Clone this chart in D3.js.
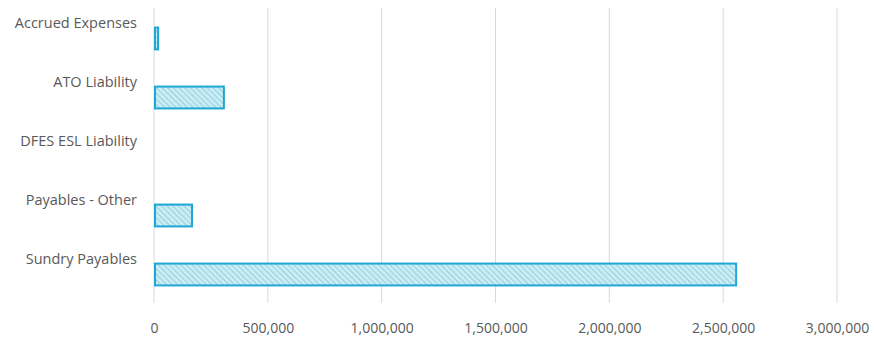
<!DOCTYPE html>
<html><head><meta charset="utf-8">
<script src="https://cdn.jsdelivr.net/npm/d3@7"></script>
<style>body{margin:0;background:#fff}svg{display:block}</style>
</head><body>
<script>
const categories = ["Accrued Expenses","ATO Liability","DFES ESL Liability","Payables - Other","Sundry Payables"];
const values = [18000, 307000, 0, 167000, 2557000];
const tickValues = [0, 500000, 1000000, 1500000, 2000000, 2500000, 3000000];

const W = 874, H = 338;
const svg = d3.select("body").append("svg").attr("width", W).attr("height", H);
const defs = svg.append("defs");
const pat = defs.append("pattern").attr("id","hatch").attr("patternUnits","userSpaceOnUse")
  .attr("width",4).attr("height",4).attr("patternTransform","rotate(-45)");
pat.append("rect").attr("width",4).attr("height",4).attr("fill","#c4eef8");
pat.append("line").attr("x1",0).attr("y1",0).attr("x2",0).attr("y2",4).attr("stroke","#93bcc8").attr("stroke-width",1.4);

const x = d3.scaleLinear().domain([0, 3000000]).range([154, 837]);
const y = d3.scaleBand().domain(categories).range([9, 304]).paddingInner(0.63).paddingOuter(0.315);

// gridlines
svg.append("g").selectAll("line").data(tickValues).join("line")
  .attr("x1", d => x(d)).attr("x2", d => x(d)).attr("y1", 8).attr("y2", 303)
  .attr("stroke", "#d9d9d9").attr("stroke-width", 1);

// bars
svg.append("g").selectAll("rect").data(values).join("rect")
  .attr("x", x(0)+1)
  .attr("y", (d,i) => y(categories[i]))
  .attr("width", d => d > 0 ? Math.max(x(d) - x(0) - 1, 2) : 0)
  .attr("height", y.bandwidth())
  .attr("fill", "url(#hatch)")
  .attr("stroke", d => d > 0 ? "#20a6d6" : "none")
  .attr("stroke-width", 2);

// category labels
svg.append("g").selectAll("text").data(categories).join("text")
  .attr("x", 137)
  .attr("y", d => y(d) + y.bandwidth()/2 - 16)
  .attr("dy", "0.35em")
  .attr("text-anchor", "end")
  .attr("font-family", "Open Sans, sans-serif")
  .attr("font-size", 14.5)
  .attr("fill", "#595959")
  .text(d => d);

// x axis labels
const fmt = d3.format(",");
const ax = svg.append("g").attr("transform", "translate(0,320)")
  .call(d3.axisBottom(x).tickValues(tickValues).tickFormat(fmt).tickSize(0));
ax.select(".domain").remove();
ax.selectAll("text").attr("font-family", "Open Sans, sans-serif").attr("font-size", 14).attr("fill", "#595959").attr("dy","0.71em").attr("y",3);
</script>
</body></html>
